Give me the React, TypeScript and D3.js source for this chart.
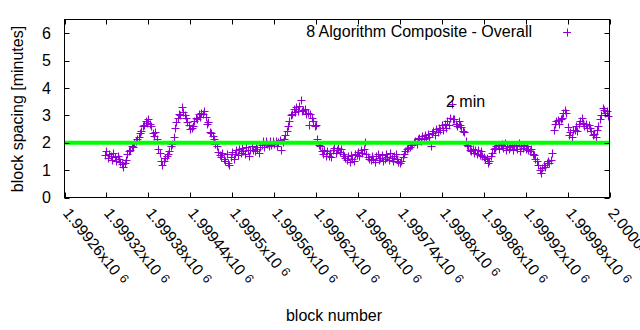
import React from "react";
import * as d3 from "d3";

const startBlock = 1999318;
const blockStep = 2;
const spacing: number[] = [
  1.55, 1.68, 1.45, 1.6, 1.5, 1.38, 1.62, 1.48, 1.35, 1.5,
  1.42, 1.3, 1.22, 1.1, 1.25, 1.38, 1.6, 1.7, 1.72, 1.88,
  1.85, 2.0, 2.08, 2.15, 2.2, 2.35, 2.42, 2.6, 2.65, 2.78,
  2.72, 2.85, 2.7, 2.62, 2.35, 2.25, 2.4, 2.15, 1.78, 1.62,
  1.35, 1.18, 1.32, 1.45, 1.5, 1.58, 1.68, 1.88, 1.95, 2.2,
  2.55, 2.75, 2.9, 3.05, 3.0, 3.3, 3.12, 3.0, 2.9, 2.75,
  2.65, 2.5, 2.55, 2.6, 2.78, 2.92, 2.85, 3.05, 2.95, 3.1,
  3.05, 3.15, 2.95, 2.7, 2.75, 2.4, 2.35, 2.25, 2.15, 1.95,
  1.88, 1.65, 1.55, 1.48, 1.62, 1.4, 1.35, 1.58, 1.25, 1.2,
  1.48, 1.65, 1.4, 1.6, 1.72, 1.55, 1.78, 1.62, 1.82, 1.68,
  1.6, 1.85, 1.72, 1.5, 1.75, 1.88, 1.72, 1.68, 1.85, 1.78,
  1.62, 1.85, 1.92, 2.05, 1.85, 2.08, 1.95, 1.88, 2.05, 1.92,
  2.08, 1.95, 2.05, 1.88, 2.02, 2.1, 1.72, 2.02, 2.15, 2.28,
  2.42, 2.6, 2.8, 3.0, 3.05, 3.25, 3.12, 3.3, 3.15, 3.35,
  3.55, 3.15, 3.2, 3.25, 3.05, 3.1, 2.65, 3.05, 2.9, 2.8,
  2.62, 2.65, 2.12, 1.92, 1.88, 1.7, 1.6, 1.75, 1.52, 1.7,
  1.5, 1.62, 1.48, 1.72, 1.8, 1.62, 1.75, 1.82, 1.65, 1.78,
  1.6, 1.52, 1.45, 1.38, 1.52, 1.3, 1.55, 1.42, 1.35, 1.6,
  1.55, 1.65, 1.5, 1.72, 1.62, 1.78, 2.02, 1.58, 1.48, 1.42,
  1.38, 1.52, 1.42, 1.3, 1.5, 1.58, 1.38, 1.45, 1.55, 1.35,
  1.42, 1.58, 1.48, 1.38, 1.62, 1.45, 1.35, 1.52, 1.58, 1.42,
  1.3, 1.25, 1.35, 1.48, 1.58, 1.68, 1.78, 1.8, 1.85, 1.9,
  1.92, 2.02, 2.08, 1.95, 2.12, 2.18, 2.08, 2.25, 2.15, 2.28,
  2.18, 2.32, 2.22, 1.88, 2.35, 2.42, 2.28, 2.5, 2.38, 2.55,
  2.48, 2.65, 2.45, 2.7, 2.52, 2.8, 2.65, 2.9, 3.42, 2.88,
  2.85, 2.68, 2.62, 2.8, 2.65, 2.58, 2.42, 2.38, 2.05, 1.92,
  1.88, 1.75, 1.68, 1.78, 1.62, 1.75, 1.6, 1.72, 1.55, 1.7,
  1.52, 1.48, 1.42, 1.45, 1.25, 1.35, 1.5, 1.62, 1.78, 1.82,
  1.88, 1.92, 1.78, 1.9, 1.95, 1.8, 1.98, 1.75, 1.88, 1.78,
  1.85, 1.92, 1.72, 1.88, 1.9, 1.78, 1.98, 1.7, 1.88, 1.8,
  1.9, 1.78, 1.88, 1.75, 1.7, 1.78, 1.58, 1.55, 1.42, 1.32,
  1.18, 1.02, 0.9, 1.08, 1.18, 1.12, 1.25, 1.32, 1.25, 1.38,
  1.62, 2.45, 2.68, 2.78, 2.82, 2.7, 2.88, 2.92, 3.08, 3.18,
  3.1, 2.58, 2.28, 2.4, 2.22, 2.45, 2.48, 2.6, 2.42, 2.7,
  2.78, 2.9, 2.72, 2.62, 2.68, 2.52, 2.65, 2.55, 2.42, 2.3,
  2.32, 2.2, 2.45, 2.62, 2.88, 3.02, 3.28, 3.18, 3.08, 3.15,
  2.98,
];

const xTickValues: number[] = [
  1999260, 1999320, 1999380, 1999440, 1999500, 1999560, 1999620,
  1999680, 1999740, 1999800, 1999860, 1999920, 1999980, 2000040,
];
const xTickLabels: string[] = [
  "1.99926x10", "1.99932x10", "1.99938x10", "1.99944x10", "1.9995x10",
  "1.99956x10", "1.99962x10", "1.99968x10", "1.99974x10", "1.9998x10",
  "1.99986x10", "1.99992x10", "1.99998x10", "2.00004x10",
];
const yTickValues: number[] = [0, 1, 2, 3, 4, 5, 6];
const targetMinutes = 2;
const seriesName = "8 Algorithm Composite - Overall";
const annotation = "2 min";

const W = 640;
const H = 330;
const M = { left: 64.5, right: 609.5, top: 19.5, bottom: 197.5 };
const FONT = "'Liberation Sans', Arial, sans-serif";
const PURPLE = "#9400d3";

export default function App() {
  const x = d3.scaleLinear().domain([1999260, 2000040]).range([M.left, M.right]);
  const y = d3.scaleLinear().domain([0, 6.5]).range([M.bottom, M.top]);
  const pts = spacing.map((v, i) => ({ b: startBlock + i * blockStep, v }));
  const cs = 3.5;
  return (
    <div style={{ position: "fixed", left: 0, top: 0 }}>
      <svg width={W} height={H} style={{ display: "block", background: "#fff" }} fontFamily={FONT}>
        <rect x={0} y={0} width={W} height={H} fill="#fff" />
        {/* points */}
        <g stroke={PURPLE} strokeWidth={1.1} fill="none">
          {pts.map((p, i) => {
            const px = Math.round(x(p.b)) + 0.5;
            const py = Math.round(y(p.v)) + 0.5;
            return (
              <path key={i} d={`M${px - cs - 0.5},${py}H${px + cs + 0.5}M${px},${py - cs - 0.5}V${py + cs + 0.5}`} />
            );
          })}
        </g>
        {/* 2 min line */}
        <line x1={M.left} x2={M.right} y1={y(targetMinutes)} y2={y(targetMinutes)} stroke="#00ff00" strokeWidth={4} />
        {/* frame */}
        <rect x={M.left} y={M.top} width={M.right - M.left} height={M.bottom - M.top} fill="none" stroke="#000" strokeWidth={1} />
        {/* y ticks */}
        {yTickValues.map((t) => (
          <g key={t}>
            <line x1={M.left} x2={M.left + 5} y1={Math.round(y(t)) + 0.5} y2={Math.round(y(t)) + 0.5} stroke="#000" />
            <line x1={M.right - 5} x2={M.right} y1={Math.round(y(t)) + 0.5} y2={Math.round(y(t)) + 0.5} stroke="#000" />
            <text x={51} y={y(t)} dy="0.36em" textAnchor="end" fontSize={16} fill="#000">{t}</text>
          </g>
        ))}
        {/* x ticks */}
        {xTickValues.map((t, i) => {
          const px = Math.round(x(t)) + 0.5;
          return (
            <g key={t}>
              <line x1={px} x2={px} y1={M.bottom} y2={M.bottom - 5} stroke="#000" />
              <line x1={px} x2={px} y1={M.top} y2={M.top + 5} stroke="#000" />
              <text transform={`translate(${px + 1},${210}) rotate(51)`} fontSize={15.5} fill="#000" dy="0.35em">
                {xTickLabels[i]}
                <tspan fontSize={12.5} dx={5} dy={-3}>6</tspan>
              </text>
            </g>
          );
        })}
        {/* axis labels */}
        <text transform={`translate(23,109) rotate(-90)`} textAnchor="middle" fontSize={16} fill="#000">block spacing [minutes]</text>
        <text x={334} y={321} textAnchor="middle" fontSize={16} fill="#000">block number</text>
        {/* annotation */}
        <text x={446} y={107} fontSize={16} fill="#000">{annotation}</text>
        {/* legend */}
        <text x={532} y={37} textAnchor="end" fontSize={16} fill="#000">{seriesName}</text>
        <path d={`M${563},${32.5}H${571}M${567.5},${28.5}V${36.5}`} stroke={PURPLE} strokeWidth={1} />
      </svg>
    </div>
  );
}
